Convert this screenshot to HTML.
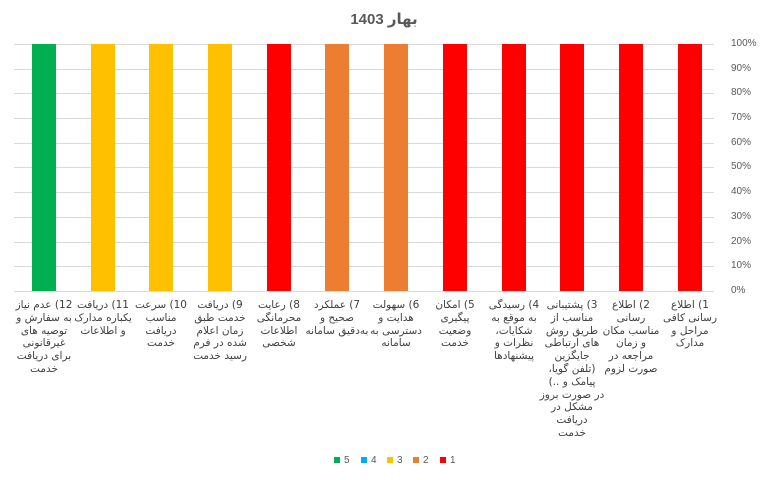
<!DOCTYPE html>
<html><head><meta charset="utf-8"><style>
body{margin:0;width:768px;height:480px;background:#fff;font-family:"Liberation Sans","DejaVu Sans",sans-serif;position:relative;overflow:hidden}
.t{position:absolute;left:0;width:768px;top:10px;text-align:center;font-weight:bold;font-size:15px;color:#595959;direction:rtl}
.g{position:absolute;left:14px;width:700px;height:1px;background:#d9d9d9}
.y{position:absolute;left:731px;font-size:10px;color:#595959;width:40px;text-align:left}
.b{position:absolute;width:24px;top:44px;height:247px}
.l{position:absolute;top:299px;width:70px;text-align:center;direction:rtl;font-size:10.5px;line-height:12.8px;color:#404040;font-family:"DejaVu Sans",sans-serif}
.lg{position:absolute;top:455px;font-size:10px;color:#595959}
.lg i{display:inline-block;width:6px;height:6px;margin-right:4px;vertical-align:middle}
</style></head><body>
<div class="t">بهار 1403</div>
<div class="g" style="top:44px"></div><div class="g" style="top:69px"></div><div class="g" style="top:93px"></div><div class="g" style="top:118px"></div><div class="g" style="top:143px"></div><div class="g" style="top:167px"></div><div class="g" style="top:192px"></div><div class="g" style="top:217px"></div><div class="g" style="top:242px"></div><div class="g" style="top:266px"></div><div class="g" style="top:291px"></div>
<div class="y" style="top:38px">100%</div><div class="y" style="top:63px">90%</div><div class="y" style="top:87px">80%</div><div class="y" style="top:112px">70%</div><div class="y" style="top:137px">60%</div><div class="y" style="top:161px">50%</div><div class="y" style="top:186px">40%</div><div class="y" style="top:211px">30%</div><div class="y" style="top:236px">20%</div><div class="y" style="top:260px">10%</div><div class="y" style="top:285px">0%</div>
<div class="b" style="left:32px;background:#00b050"></div>
<div class="b" style="left:91px;background:#ffc000"></div>
<div class="b" style="left:149px;background:#ffc000"></div>
<div class="b" style="left:208px;background:#ffc000"></div>
<div class="b" style="left:267px;background:#ff0000"></div>
<div class="b" style="left:325px;background:#ed7d31"></div>
<div class="b" style="left:384px;background:#ed7d31"></div>
<div class="b" style="left:443px;background:#ff0000"></div>
<div class="b" style="left:502px;background:#ff0000"></div>
<div class="b" style="left:560px;background:#ff0000"></div>
<div class="b" style="left:619px;background:#ff0000"></div>
<div class="b" style="left:678px;background:#ff0000"></div>
<div class="l" style="left:9px">12) عدم نیاز<br>به سفارش و<br>توصیه های<br>غیرقانونی<br>برای دریافت<br>خدمت</div>
<div class="l" style="left:68px">11) دریافت<br>یکباره مدارک<br>و اطلاعات</div>
<div class="l" style="left:126px">10) سرعت<br>مناسب<br>دریافت<br>خدمت</div>
<div class="l" style="left:185px">9) دریافت<br>خدمت طبق<br>زمان اعلام<br>شده در فرم<br>رسید خدمت</div>
<div class="l" style="left:244px">8) رعایت<br>محرمانگی<br>اطلاعات<br>شخصی</div>
<div class="l" style="left:302px">7) عملکرد<br>صحیح و<br>به‌دقیق سامانه</div>
<div class="l" style="left:361px">6) سهولت<br>هدایت و<br>دسترسی به<br>سامانه</div>
<div class="l" style="left:420px">5) امکان<br>پیگیری<br>وضعیت<br>خدمت</div>
<div class="l" style="left:479px">4) رسیدگی<br>به موقع به<br>شکایات،<br>نظرات و<br>پیشنهادها</div>
<div class="l" style="left:537px">3) پشتیبانی<br>مناسب از<br>طریق روش<br>های ارتباطی<br>جایگزین<br>(تلفن گویا،<br>پیامک و ..)<br>در صورت بروز<br>مشکل در<br>دریافت<br>خدمت</div>
<div class="l" style="left:596px">2) اطلاع<br>رسانی<br>مناسب مکان<br>و زمان<br>مراجعه در<br>صورت لزوم</div>
<div class="l" style="left:655px">1) اطلاع<br>رسانی کافی<br>مراحل و<br>مدارک</div>
<div class="lg" style="left:334px"><i style="background:#00b050"></i>5</div>
<div class="lg" style="left:361px"><i style="background:#00b0f0"></i>4</div>
<div class="lg" style="left:387px"><i style="background:#ffc000"></i>3</div>
<div class="lg" style="left:413px"><i style="background:#ed7d31"></i>2</div>
<div class="lg" style="left:440px"><i style="background:#ff0000"></i>1</div>
</body></html>
